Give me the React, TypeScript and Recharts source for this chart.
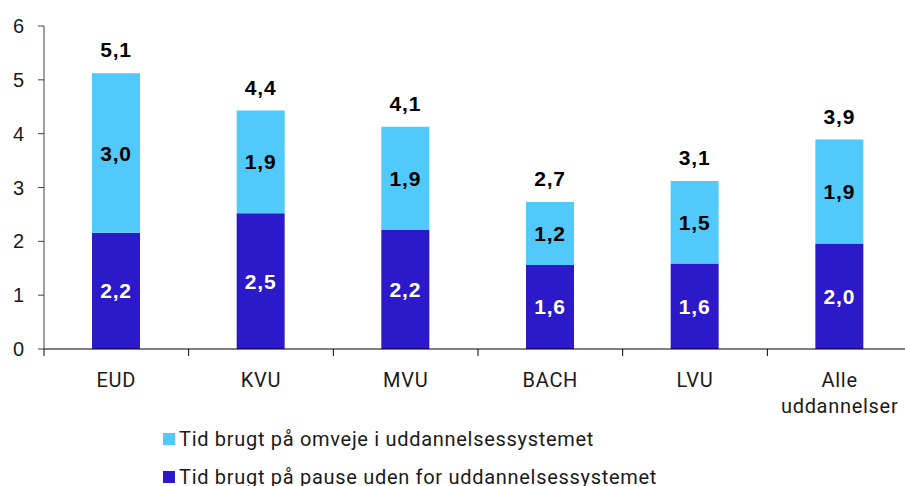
import React from 'react';
import { BarChart, Bar, XAxis, YAxis, Legend, LabelList } from 'recharts';

const categories = ['EUD', 'KVU', 'MVU', 'BACH', 'LVU', 'Alle uddannelser'];
const pauseValues = [2.16, 2.52, 2.21, 1.56, 1.59, 1.96];
const omvejeValues = [2.96, 1.91, 1.92, 1.17, 1.53, 1.93];
const yTicks = [0, 1, 2, 3, 4, 5, 6];
const pauseName = 'Tid brugt på pause uden for uddannelsessystemet';
const omvejeName = 'Tid brugt på omveje i uddannelsessystemet';

const DARK = '#2B19CA';
const LIGHT = '#51C9FA';

const data = categories.map((c, i) => ({
  name: c,
  pause: pauseValues[i],
  omveje: omvejeValues[i],
  total: pauseValues[i] + omvejeValues[i],
}));

const fmt = (v: any) => Number(v).toFixed(1).replace('.', ',');

const labelStyle = { fontFamily: 'Liberation Sans', fontWeight: 'bold', fontSize: 21, letterSpacing: 0.8 };

const CategoryTick = (props: any) => {
  const { x, y, payload } = props;
  const off = payload && payload.offset ? payload.offset : 0;
  const lines = String(payload.value).split(' ');
  return (
    <g>
      <line x1={x - off} x2={x - off} y1={y} y2={y + 7} stroke="#000" strokeWidth={1} />
      <text x={x} y={y} textAnchor="middle" fontFamily="Roboto" fontSize={20} letterSpacing={0.7} fill="#1a1a1a">
        {lines.map((l, i) => (
          <tspan key={i} x={x} dy={i === 0 ? 38 : 26}>
            {l}
          </tspan>
        ))}
      </text>
    </g>
  );
};

const legendOrder = [omvejeName, pauseName];

const renderLegend = (props: any) => {
  const items = [...(props.payload || [])].sort(
    (a: any, b: any) => legendOrder.indexOf(a.value) - legendOrder.indexOf(b.value)
  );
  return (
    <div style={{ display: 'flex', flexDirection: 'column' }}>
      {items.map((it: any) => (
        <div key={it.value} style={{ display: 'flex', alignItems: 'center', height: 38 }}>
          <span style={{ display: 'inline-block', width: 12, height: 12, background: it.color, marginRight: 4 }} />
          <span style={{ fontFamily: 'Roboto', fontSize: 20, letterSpacing: 0.7, color: '#1a1a1a', whiteSpace: 'nowrap' }}>{it.value}</span>
        </div>
      ))}
    </div>
  );
};

export default function App() {
  return (
    <div style={{ position: 'absolute', left: 0, top: 0, width: 905, height: 486, overflow: 'hidden', background: '#fff' }}>
      <BarChart
        width={912}
        height={486}
        data={data}
        margin={{ top: 26, right: 0, left: 0, bottom: 77 }}
        barSize={48}
      >
        <XAxis
          dataKey="name"
          height={60}
          interval={0}
          tickLine={false}
          tickSize={0}
          tickMargin={0}
          axisLine={{ stroke: '#000', strokeWidth: 1 }}
          tick={<CategoryTick />}
        />
        <YAxis
          width={44}
          domain={[0, 6]}
          ticks={yTicks}
          interval={0}
          tickSize={6}
          tickMargin={14}
          axisLine={{ stroke: '#404040' }}
          tickLine={{ stroke: '#404040' }}
          tick={{ fontFamily: 'Liberation Sans', fontSize: 20, fill: '#1a1a1a' }}
        />
        <Legend
          layout="horizontal"
          align="center"
          verticalAlign="middle"
          content={renderLegend}
          wrapperStyle={{ left: 163, top: 420, width: 700 }}
        />
        <Bar dataKey="pause" name={pauseName} stackId="a" fill={DARK} isAnimationActive={false}>
          <LabelList dataKey="pause" position="center" formatter={fmt} style={{ ...labelStyle, fill: '#fff' }} />
        </Bar>
        <Bar dataKey="omveje" name={omvejeName} stackId="a" fill={LIGHT} isAnimationActive={false}>
          <LabelList dataKey="omveje" position="center" formatter={fmt} style={{ ...labelStyle, fill: '#000' }} />
          <LabelList dataKey="total" position="top" offset={16} formatter={fmt} style={{ ...labelStyle, fill: '#000' }} />
        </Bar>
      </BarChart>
    </div>
  );
}
